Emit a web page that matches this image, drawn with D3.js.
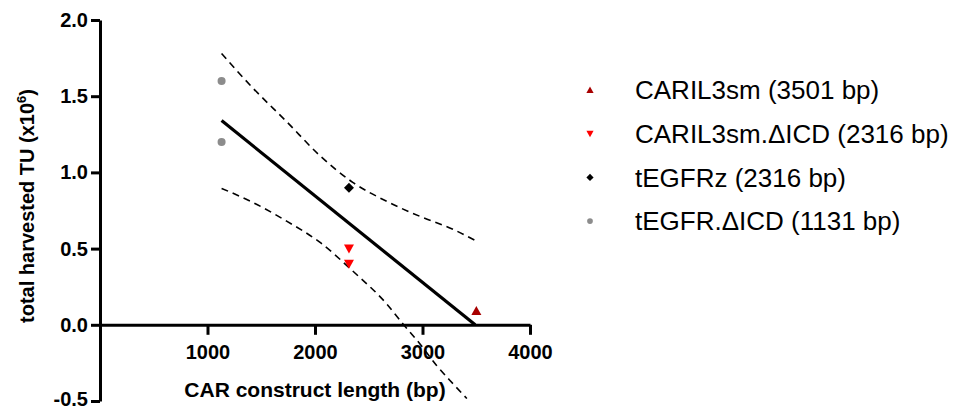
<!DOCTYPE html>
<html>
<head>
<meta charset="utf-8">
<script src="https://cdn.jsdelivr.net/npm/d3@7"></script>
<style>
    body { margin: 0; background: #fff; }
    svg { font-family: Arial, "Liberation Sans", sans-serif; }
</style>
</head>
<body>
<svg id="chart" width="964" height="409"></svg>
<script>
// groups shown in the legend, with their construct length and measured values
const groups = ["CARIL3sm", "CARIL3sm.ΔICD", "tEGFRz", "tEGFR.ΔICD"];
const groupLabels = [
    "CARIL3sm (3501 bp)",
    "CARIL3sm.ΔICD (2316 bp)",
    "tEGFRz (2316 bp)",
    "tEGFR.ΔICD (1131 bp)"
];
const groupLength = [3501, 2316, 2316, 1131];
const groupValues = [[0.09], [0.5, 0.4], [0.9], [1.6, 1.2]];

// regression line and 95% band
const fitX = [1131, 3490];
const fitY = [1.34, 0];
const upperX = [1131, 1419, 1736, 2044, 2351, 2667, 2975, 3283, 3501];
const upperY = [1.78, 1.556, 1.333, 1.111, 0.935, 0.81, 0.712, 0.627, 0.549];
const lowerX = [1131, 1419, 1736, 2044, 2351, 2667, 2817, 2975, 3133, 3283, 3413];
const lowerY = [0.895, 0.804, 0.68, 0.542, 0.353, 0.137, 0.007, -0.124, -0.268, -0.386, -0.484];

const xTicks = [1000, 2000, 3000, 4000];
const yTicks = [-0.5, 0, 0.5, 1.0, 1.5, 2.0];

const colors = {
    "CARIL3sm": "#a80000",
    "CARIL3sm.ΔICD": "#ff0000",
    "tEGFRz": "#000000",
    "tEGFR.ΔICD": "#8c8c8c"
};
const shapes = {
    "CARIL3sm": "up",
    "CARIL3sm.ΔICD": "down",
    "tEGFRz": "diamond",
    "tEGFR.ΔICD": "circle"
};

const svg = d3.select("#chart");

const xScale = d3.scaleLinear().domain([0, 4000]).range([100, 530]);
const yScale = d3.scaleLinear().domain([-0.5, 2]).range([401, 20]);

function markerPath(shape, s) {
    // s = half size
    if (shape === "up") return `M0,${-s}L${s},${s * 0.8}L${-s},${s * 0.8}Z`;
    if (shape === "down") return `M0,${s}L${s},${-s * 0.8}L${-s},${-s * 0.8}Z`;
    if (shape === "diamond") return `M0,${-s}L${s},0L0,${s}L${-s},0Z`;
    return d3.symbol(d3.symbolCircle, Math.PI * s * s * 0.8)();
}

// axes
const yAxis = svg.append("g")
    .attr("transform", `translate(${xScale(0)},0)`)
    .call(d3.axisLeft(yScale).tickValues(yTicks)
        .tickFormat(function (d) { return d.toFixed(1); })
        .tickSize(9).tickSizeOuter(0).tickPadding(3));
const xAxis = svg.append("g")
    .attr("transform", `translate(0,${yScale(0)})`)
    .call(d3.axisBottom(xScale).tickValues(xTicks)
        .tickFormat(function (d) { return String(d); })
        .tickSize(10).tickSizeOuter(0).tickPadding(10));

[xAxis, yAxis].forEach(function (a) {
    a.select(".domain").attr("stroke", "#000").attr("stroke-width", 3);
    a.selectAll(".tick line").attr("stroke", "#000").attr("stroke-width", 3);
    a.selectAll(".tick text")
        .attr("fill", "#000")
        .style("font-size", "20px")
        .style("font-weight", "bold")
        .style("font-family", "Arial, 'Liberation Sans', sans-serif");
});
// keep the bottom label inside the frame
yAxis.selectAll(".tick text")
    .filter(function (d) { return d === -0.5; })
    .attr("dy", "0.2em");

// axis titles
svg.append("text")
    .attr("x", 315)
    .attr("y", 397)
    .attr("text-anchor", "middle")
    .style("font-size", "21px")
    .style("font-weight", "bold")
    .text("CAR construct length (bp)");

const yTitle = svg.append("text")
    .attr("transform", "translate(34,206) rotate(-90)")
    .attr("text-anchor", "middle")
    .style("font-size", "20px")
    .style("font-weight", "bold");
yTitle.append("tspan").text("total harvested TU (x10");
yTitle.append("tspan").attr("dy", -8).style("font-size", "13px").text("6");
yTitle.append("tspan").attr("dy", 8).text(")");

// confidence band
const line = d3.line()
    .x(function (d) { return xScale(d[0]); })
    .y(function (d) { return yScale(d[1]); })
    .curve(d3.curveMonotoneX);

[[upperX, upperY], [lowerX, lowerY]].forEach(function (b) {
    svg.append("path")
        .datum(d3.zip(b[0], b[1]))
        .attr("d", line)
        .attr("fill", "none")
        .attr("stroke", "#000")
        .attr("stroke-width", 1.6)
        .attr("stroke-dasharray", "7,5");
});

// fit line
svg.append("path")
    .datum(d3.zip(fitX, fitY))
    .attr("d", d3.line().x(function (d) { return xScale(d[0]); }).y(function (d) { return yScale(d[1]); }))
    .attr("fill", "none")
    .attr("stroke", "#000")
    .attr("stroke-width", 3.2);

// points
const points = [];
groups.forEach(function (g, i) {
    groupValues[i].forEach(function (v) {
        points.push({ group: g, x: groupLength[i], y: v });
    });
});

svg.append("g")
    .selectAll("path")
    .data(points)
    .join("path")
    .attr("transform", function (d) { return `translate(${xScale(d.x)},${yScale(d.y)})`; })
    .attr("d", function (d) { return markerPath(shapes[d.group], shapes[d.group] === "circle" ? 4.5 : 5); })
    .attr("fill", function (d) { return colors[d.group]; });

// legend
const legend = svg.append("g")
    .selectAll("g")
    .data(groups)
    .join("g")
    .attr("transform", function (d, i) { return `translate(590,${90 + i * 43.7})`; });

legend.append("path")
    .attr("d", function (d) { return markerPath(shapes[d], shapes[d] === "circle" ? 3.2 : 3.6); })
    .attr("fill", function (d) { return colors[d]; });

legend.append("text")
    .attr("x", 45)
    .attr("dy", "0.36em")
    .style("font-size", "26px")
    .attr("fill", "#000")
    .text(function (d, i) { return groupLabels[i]; });
</script>
</body>
</html>
